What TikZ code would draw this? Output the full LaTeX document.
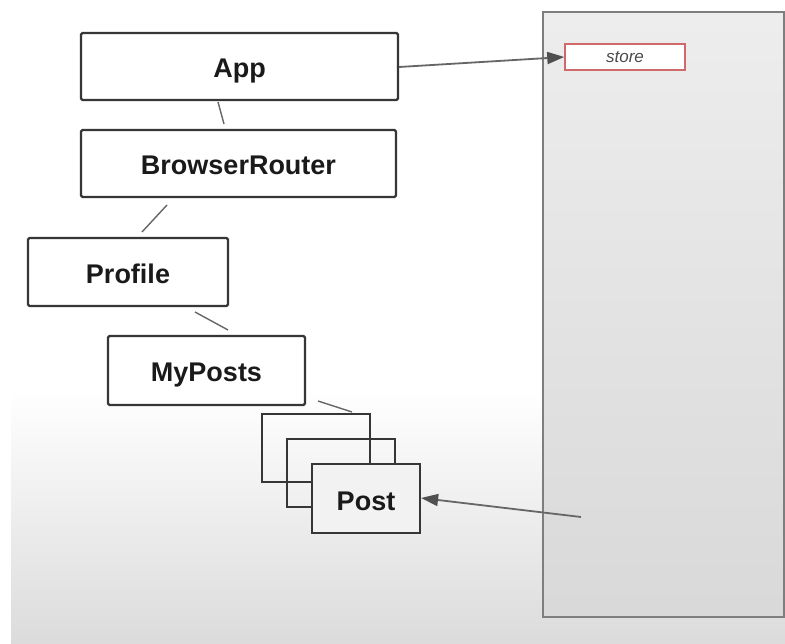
\documentclass[tikz,border=0pt]{standalone}
\usepackage{fontspec}
\setmainfont{Liberation Sans}
\usetikzlibrary{arrows.meta}
\definecolor{boxline}{HTML}{363636}
\definecolor{linkline}{HTML}{666666}
\definecolor{tipcol}{HTML}{505050}
\definecolor{panelline}{HTML}{7E7E7E}
\definecolor{storered}{HTML}{D06A6A}
\definecolor{txt}{HTML}{1A1A1A}
\tikzset{
  comp/.style={draw=boxline, line width=2.2pt, rounded corners=1.5pt, fill=white,
    font=\fontsize{27}{30}\selectfont\bfseries, text=txt, inner sep=0pt,
    text depth=0pt, text height=23pt},
  stackbox/.style={draw=boxline, line width=2.2pt, inner sep=0pt,
    font=\fontsize{27}{30}\selectfont\bfseries, text=txt,
    text depth=0pt, text height=23pt,
    minimum width=108pt, minimum height=68pt},
  link/.style={draw=linkline, line width=1.4pt},
  arr/.style={draw=linkline, line width=1.8pt,
    -{Triangle[length=17pt,width=12pt,color=tipcol]}}
}
\begin{document}
\begin{tikzpicture}[x=1pt,y=-1pt]
  \useasboundingbox (0,0) rectangle (785,644);
  % backdrop: white fading to light grey toward the bottom
  \fill[white] (0,0) rectangle (785,644);
  \shade[top color=white, bottom color=black!14] (11,390) rectangle (785,644);
  % store panel
  \shade[top color=black!7, bottom color=black!15] (543,12) rectangle (784,617);
  \draw[panelline, line width=2pt] (543,12) rectangle (784,617);
  \node[draw=storered, line width=1.5pt, fill=white, minimum width=120pt, minimum height=26pt,
        inner sep=0pt, font=\fontsize{17}{19}\selectfont\itshape, text=black!70]
        (store) at (625,57) {store};
  % component tree
  \node[comp, minimum width=317pt, minimum height=67pt] (app) at (239.5,66.5) {App};
  \node[comp, minimum width=315pt, minimum height=67pt] (router) at (238.5,163.5) {BrowserRouter};
  \node[comp, minimum width=200pt, minimum height=68pt] (profile) at (128,272) {Profile};
  \node[comp, minimum width=197pt, minimum height=69pt] (myposts) at (206.5,370.5) {MyPosts};
  % stacked Post cards: the back two are outlines only
  \node[stackbox] (post1) at (316,448) {};
  \node[stackbox] (post2) at (341,473) {};
  \node[stackbox, fill=black!5, minimum height=69pt] (post3) at (366,498.5) {Post};
  % tree links
  \draw[link] (218,102) -- (224,124);
  \draw[link] (167,205) -- (142,232);
  \draw[link] (195,312) -- (228,330);
  \draw[link] (318,401) -- (352,412);
  % arrows
  \coordinate (tail) at (581,517);
  \draw[arr] (app.east |- 0,67) -- (store.west);
  \draw[arr] (tail) -- (post3.east |- 0,498);
\end{tikzpicture}
\end{document}
